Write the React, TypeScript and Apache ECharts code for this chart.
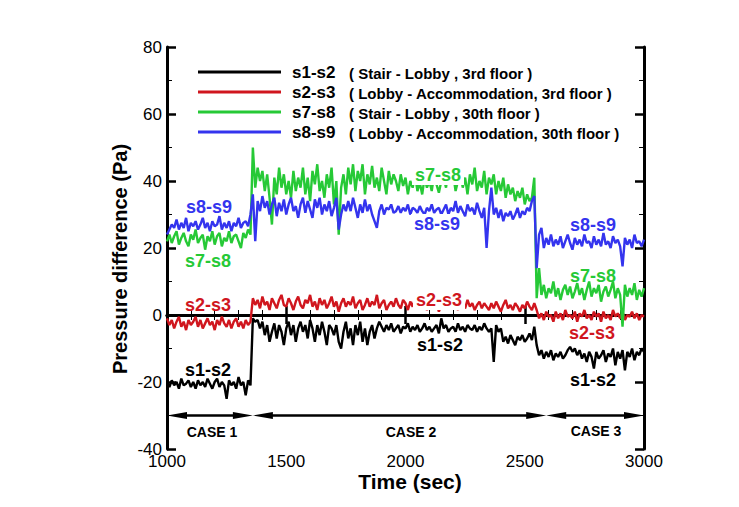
import React, { useEffect, useRef } from "react";
import * as echarts from "echarts";

// ---------- data (sampled every 10 s from 1000 s) ----------
const TIME_START = 1000;
const TIME_STEP = 10;

const s1s2 = [
  -20, -21.5, -19.5, -21, -20, -22, -19, -21, -20.5, -19.5, -21.5, -20, -22, -19.5, -21, -20, -21.5, -19, -20.5, -22, -20, -19, -21.5, -20, -21, -25, -19.5, -21, -20, -22, -18.5, -21, -20, -24, -19.5, -21,
  -1, -2, -1.5, -4, -2, -6, -3, -8, -5, -2.5, -7, -3, -5, -9, -4, -2, -6, -3, -8, -4,
  -2, -5, -3, -7, -1.5, -4, -8, -3, -6, -2, -5, -9, -3, -4, -6,
  -3, -8, -10, -5, -2, -7, -4, -9, -3, -6, -2, -8, -4, -9, -5, -3, -7, -4, -2,
  -3.5, -5, -3, -4.5, -2.5, -5, -4, -3, -5.5, -3.5, -4, -2.5, -5, -3.5, -4.5, -3, -5, -4, -2.5, -4.5, -3.5, -5, -4, -3, -5.5, -1, -4, -3, -5, -4, -3.5, -5, -2.5, -4.5, -3.5, -5, -3, -4, -4.5, -3, -5, -3.5, -4.5, -2.5, -4, -5,
  -4, -14, -3, -5, -4, -8, -6.5, -8.5, -6, -7.5, -9, -6.5, -7.5, -6, -8, -7, -5.5, -7.5, -3.5,
  -9, -12, -10.5, -13, -11, -12.5, -10.5, -13.5, -11.5, -12.5, -11, -13, -12, -10.5, -9.5, -11, -10, -12, -10.5, -13, -11.5, -14, -11, -12.5, -16, -11, -13, -12, -10.5, -14, -11.5, -12.5, -10, -15, -11, -13, -10.5, -16.5, -11, -12.5, -10, -13.5, -11, -12, -10, -11,
];

const s2s3 = [
  -1, -3, -1.5, -4, -2, -0.5, -3.5, -2, -4.5, -1.5, -3, -2, -0.5, -3.5, -1.5, -4, -2.5, -1, -3, -2, -4.5, -1.5, -3, -0.5, -2.5, -3.5, -1.5, -4, -2, -1, -3.5, -2, -4, -1.5, -3, -2,
  5, 3, 4.5, 2, 5.5, 3, 4, 1.5, 5, 3.5, 2, 4.5, 6, 3, 2.5, 5, 3.5, 1.5, 4, 5.5,
  3, 2, 4.5, 3.5, 6, 2.5, 4, 1.5, 5, 3, 4.5, 2, 3.5, 5.5, 2.5, 4, 1, 3.5, 5, 2.5,
  4, 3, 5.5, 2, 3.5, 4.5, 1.5, 3, 5, 2.5, 4, 3, 6, 2, 3.5, 4.5, 1.5, 3, 4, 2.5,
  5, 3, 2, 4.5, 3.5, 1.5, 4, 2.5, 5, 3, 2, 4, 3.5, 1.5, 3, 4.5, 2.5, 3.5, 1, 3,
  4, 2, 3.5, 5, 2.5, 3, 1.5, 4, 3, 2, 4.5, 2.5, 3.5, 1.5, 3, 4, 2, 3.5, 2.5, 1.5,
  3.5, 2, 4, 2.5, 1, 3, 4.5, 2, 3, 1.5, 3.5, 2.5, 1, 3, 2, 4, 2.5, 1.5, 3.5,
  1.5, -1, 0.5, -1.5, 1, -0.5, 0, -2, 1, -1, 0.5, -1.5, 1.5, -0.5, 0, -1, 1, -2, 0.5, -0.5, 1.5, -1, 0, -1.5, 1, -0.5, 0.5, -2, 1, -1, 0, -1.5, 1.5, -0.5, 0.5, -1, 1, -1.5, 0, -0.5, 1, -1, 0.5, -1.5, 0, -0.5,
];

const s7s8 = [
  22, 24, 21.5, 23.5, 25, 21, 23, 24.5, 22, 20.5, 24, 22.5, 25.5, 21.5, 23, 24, 19.5, 23.5, 22, 25, 21, 23.5, 24.5, 20.5, 23, 22, 25, 21.5, 23.5, 24, 22, 20, 24.5, 23, 25.5, 24,
  50, 38, 44, 40, 43, 37, 42, 35, 27, 41, 36, 44, 38, 42, 36, 40, 35, 43, 37, 41,
  38, 44, 36, 41, 34, 43, 39, 45, 37, 40, 35, 42, 38, 44, 33, 40, 24, 38, 42, 36,
  44, 39, 45, 37, 43, 40, 45, 36, 42, 39, 44.5, 38, 41, 37, 44, 40, 36, 43, 39, 42,
  40, 37, 42, 38.5, 41, 36, 40, 38, 42, 37, 39.5, 36, 41, 38, 40, 37, 42, 39, 36.5, 40,
  41, 38, 44, 39, 42, 37, 40, 43, 38, 41, 36, 42, 39, 44, 37, 40, 38, 43, 36, 41,
  39, 42, 36, 40, 37, 41, 35, 39, 36, 38, 34, 37, 35, 38, 33, 36, 34, 35, 41,
  5, 14, 6, 9, 5, 8, 6.5, 10, 5.5, 8, 4.5, 7.5, 9, 6, 8.5, 5, 7, 9.5, 6, 8, 4.5, 7.5, 10, 5.5, 8, 6.5, 9, 4, 7, 8.5, 5.5, 7.5, 10, 5, 8, 6, -3.5, 9, 5.5, 8, 6, 9.5, 4.5, 7.5, 5.5, 8,
];

const s8s9 = [
  24, 25.5, 27, 26, 28.5, 25.5, 27.5, 26, 29, 25, 27.5, 26.5, 28, 25.5, 27, 29, 26, 27.5, 25, 28, 26.5, 27, 29.5, 25.5, 27.5, 26, 28, 25, 27.5, 26.5, 29, 26, 27.5, 28, 26.5, 30,
  36, 22, 34, 31, 35.5, 32, 34, 30, 33, 35, 29.5, 33.5, 31, 34.5, 30, 33, 35, 31, 32.5, 29,
  33, 35, 30.5, 34, 31.5, 29, 34.5, 32, 35, 30, 33, 31, 34, 29.5, 32, 35, 25.5, 30, 33, 31,
  34, 31, 35, 32, 29, 33, 30.5, 34.5, 31, 33, 30, 28, 26, 31, 33, 30, 32, 31.5, 33, 30.5,
  31, 32.5, 30.5, 32, 31, 33, 30, 32, 31.5, 30.5, 32.5, 31, 30, 32, 31, 33, 30.5, 31.5, 32, 30,
  31.5, 33, 30, 32, 31, 34, 30.5, 32.5, 31, 29.5, 33, 31, 32, 30, 33.5, 31, 29, 32, 20, 31,
  38, 30, 32, 29, 31.5, 28, 30.5, 29.5, 31, 28.5, 30, 32, 29, 31, 30, 32, 31, 34, 35.5,
  14, 24, 26, 20, 23, 21, 24, 20.5, 22.5, 21, 23.5, 20, 22, 24, 21.5, 19.5, 23, 21, 22.5, 20.5, 24, 21.5, 22, 20, 23.5, 21, 22.5, 20.5, 24.5, 21, 22, 20, 23.5, 21.5, 22.5, 20.5, 14.5, 23, 21, 22.5, 20, 24, 21.5, 22, 20.5, 22.5,
];

const seriesNames = ["s1-s2", "s2-s3", "s7-s8", "s8-s9"];
const seriesDesc = [
  "( Stair - Lobby , 3rd floor )",
  "( Lobby - Accommodation, 3rd floor )",
  "( Stair - Lobby , 30th floor )",
  "( Lobby - Accommodation, 30th floor )",
];
const seriesColors = ["#000000", "#d0161e", "#26c936", "#3434ee"];
const seriesValues = [s1s2, s2s3, s7s8, s8s9];

const xTicks = { min: 1000, max: 3000, interval: 500 };
const yTicks = { min: -40, max: 80, interval: 20 };

const caseBounds = [1000, 1360, 2590, 3000];
const caseLabels = ["CASE 1", "CASE 2", "CASE 3"];
const caseLevel = -30;

// ---------- layout ----------
const GRID = { left: 167, top: 47, width: 477, height: 402 };
const FONT = "'Liberation Sans', Arial, Helvetica, sans-serif";
const ARROW_LEN = 20;

const toPairs = (vals: number[]) => vals.map((v, i) => [TIME_START + i * TIME_STEP, v]);

function txt(text: string, x: number, y: number, size: number, color: string, extra: any = {}) {
  return {
    type: "text",
    x,
    y,
    z: 100,
    ...extra,
    style: {
      text,
      font: `bold ${size}px ${FONT}`,
      fill: color,
      align: "center",
      verticalAlign: "middle",
      textAlign: "center",
      textVerticalAlign: "middle",
      ...(extra.style || {}),
    },
  };
}

export default function App() {
  const ref = useRef<HTMLDivElement>(null);

  useEffect(() => {
    if (!ref.current) return;
    const chart = echarts.init(ref.current, undefined, { renderer: "svg" });

    const secPerPx = (xTicks.max - xTicks.min) / GRID.width;
    const inset = (ARROW_LEN / 2) * secPerPx;
    const caseLines = caseLabels.map((_, i) => [
      { coord: [caseBounds[i] + inset, caseLevel] },
      { coord: [caseBounds[i + 1] - inset, caseLevel] },
    ]);

    const axisLine = { show: true, lineStyle: { color: "#000", width: 3 } };
    const axisTick = { show: true, inside: true, length: 9, lineStyle: { color: "#000", width: 2.5 } };

    const series: any[] = seriesValues.map((vals, i) => ({
      type: "line",
      name: seriesNames[i],
      data: toPairs(vals),
      showSymbol: false,
      symbol: "none",
      silent: true,
      z: 2 + i,
      lineStyle: { color: seriesColors[i], width: 2.4 },
      itemStyle: { color: seriesColors[i] },
      ...(i === 0
        ? {
            markLine: {
              silent: true,
              animation: false,
              symbol: ["triangle", "triangle"],
              symbolSize: [7, ARROW_LEN],
              label: { show: false },
              lineStyle: { color: "#000", width: 2.5, type: "solid" },
              data: caseLines,
            },
          }
        : {}),
    }));

    const legendRows = seriesNames.map((name, i) => {
      const y = 72 + i * 20;
      return [
        {
          type: "line",
          z: 100,
          shape: { x1: 198, y1: y, x2: 281, y2: y },
          style: { stroke: seriesColors[i], lineWidth: 3 },
        },
        txt(name, 292, y, 17, "#000", { style: { align: "left", textAlign: "left" } }),
        txt(seriesDesc[i], 349, y + 1, 15, "#000", { style: { align: "left", textAlign: "left" } }),
      ];
    }).flat();

    const whiteBg = { style: { backgroundColor: "#fff", padding: [1, 3] } };
    const seriesLabels = [
      txt("s8-s9", 209, 207, 18, seriesColors[3]),
      txt("s7-s8", 208, 261, 18, seriesColors[2]),
      txt("s2-s3", 208, 305, 18, seriesColors[1]),
      txt("s1-s2", 208, 370, 18, seriesColors[0]),
      txt("s7-s8", 438, 175, 18, seriesColors[2], whiteBg),
      txt("s8-s9", 437, 224, 18, seriesColors[3], whiteBg),
      txt("s2-s3", 439, 300, 18, seriesColors[1], whiteBg),
      txt("s1-s2", 440, 345, 18, seriesColors[0], whiteBg),
      txt("s8-s9", 593, 225, 18, seriesColors[3]),
      txt("s7-s8", 593, 276, 18, seriesColors[2]),
      txt("s2-s3", 592, 333, 18, seriesColors[1]),
      txt("s1-s2", 593, 380, 18, seriesColors[0]),
    ];

    const caseTexts = [
      txt(caseLabels[0], 212, 432, 14, "#000"),
      txt(caseLabels[1], 411, 432, 14, "#000"),
      txt(caseLabels[2], 596, 431, 14, "#000"),
    ];

    const titles = [
      txt("Time (sec)", 410, 481, 21, "#000"),
      txt("Pressure difference (Pa)", 120, 259, 20, "#000", { rotation: Math.PI / 2 }),
    ];

    const plainLabel = (v: number) => String(v);

    chart.setOption({
      animation: false,
      backgroundColor: "#fff",
      grid: { left: GRID.left, top: GRID.top, width: GRID.width, height: GRID.height, containLabel: false },
      xAxis: [
        {
          type: "value",
          position: "bottom",
          ...xTicks,
          axisLine,
          axisTick,
          minorTick: { show: true, splitNumber: 5, length: 5, lineStyle: { color: "#000", width: 1 } },
          splitLine: { show: false },
          axisLabel: { fontSize: 17, color: "#000", margin: 4, fontFamily: FONT, formatter: plainLabel },
        },
        {
          type: "value",
          position: "top",
          ...xTicks,
          axisLine,
          axisTick,
          minorTick: { show: true, splitNumber: 5, length: 5, lineStyle: { color: "#000", width: 1 } },
          splitLine: { show: false },
          axisLabel: { show: false },
        },
      ],
      yAxis: [
        {
          type: "value",
          position: "left",
          ...yTicks,
          axisLine,
          axisTick,
          minorTick: { show: true, splitNumber: 2, length: 5, lineStyle: { color: "#000", width: 1 } },
          splitLine: { show: false },
          axisLabel: { fontSize: 17, color: "#000", margin: 5, fontFamily: FONT, formatter: plainLabel },
        },
        {
          type: "value",
          position: "right",
          ...yTicks,
          axisLine,
          axisTick,
          minorTick: { show: true, splitNumber: 2, length: 5, lineStyle: { color: "#000", width: 1 } },
          splitLine: { show: false },
          axisLabel: { show: false },
        },
      ],
      series,
      graphic: [...legendRows, ...seriesLabels, ...caseTexts, ...titles],
    });

    return () => chart.dispose();
  }, []);

  return (
    <div
      ref={ref}
      style={{ position: "absolute", left: 0, top: 0, width: 739, height: 507, background: "#fff" }}
    />
  );
}
